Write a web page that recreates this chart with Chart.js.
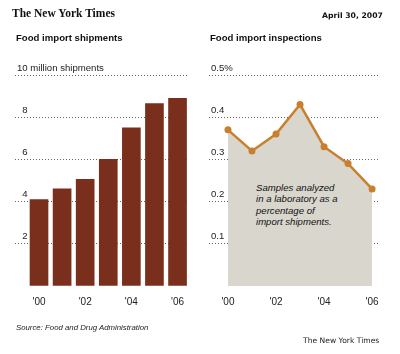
<!DOCTYPE html>
<html>
<head>
<meta charset="utf-8">
<script src="https://cdn.jsdelivr.net/npm/chart.js@4.4.1/dist/chart.umd.min.js"></script>
<style>
  body { margin: 0; background: #fff; }
  #page { position: relative; width: 400px; height: 354px; overflow: hidden; font-family: "Liberation Sans", Arial, sans-serif; color: #111; }
  .abs { position: absolute; white-space: nowrap; }
  canvas { position: absolute; top: 0; }
  #logo { left: 12px; top: 7px; font-family: "Liberation Serif", serif; font-weight: bold; font-size: 11.5px; }
  #date { left: 322px; top: 11px; font-family: "DejaVu Sans", sans-serif; font-weight: bold; font-size: 7.7px; }
  .title { top: 32px; font-weight: bold; font-size: 9.6px; }
  #source { left: 16px; top: 323px; font-style: italic; font-size: 7.8px; color: #222; }
  #credit { left: 303px; top: 336px; font-family: "DejaVu Sans", sans-serif; font-size: 7.6px; color: #222; }
  #note { left: 254px; top: 182px; font-style: italic; font-size: 9.6px; line-height: 11.3px; background: #d9d6ce; padding: 0 2px; color: #111; }
</style>
</head>
<body>
<div id="page">
  <canvas id="shipChart" width="200" height="354" style="left:0"></canvas>
  <canvas id="inspChart" width="200" height="354" style="left:200px"></canvas>
  <div class="abs" id="logo">The New York Times</div>
  <div class="abs" id="date">April 30, 2007</div>
  <div class="abs title" style="left:16px">Food import shipments</div>
  <div class="abs title" style="left:210px">Food import inspections</div>
  <div class="abs" id="note">Samples analyzed<br>in a laboratory as a<br>percentage of<br>import shipments.</div>
  <div class="abs" id="source">Source: Food and Drug Administration</div>
  <div class="abs" id="credit">The New York Times</div>
</div>
<script>
// Data
const years = [2000, 2001, 2002, 2003, 2004, 2005, 2006];
const tickYears = [2000, 2002, 2004, 2006];
const shipments = [4.1, 4.6, 5.05, 6.0, 7.5, 8.65, 8.9];          // millions
const inspections = [0.37, 0.32, 0.36, 0.43, 0.33, 0.29, 0.23];   // percent
const shipTickLabels = ['', '\u20072', '\u20074', '\u20076', '\u20078', '10 million shipments'];
const inspTickLabels = ['', '0.1', '0.2', '0.3', '0.4', '0.5%'];

const barColor = '#7a2e1c';
const lineColor = '#c8802f';
const fillColor = '#d9d6ce';
const gridColor = 'rgba(60,60,60,0.8)';

function yearLabel(v) {
    return "'" + String(v).slice(2);
}

function xAxis(min, max) {
    return {
        type: 'linear',
        min: min,
        max: max,
        offset: false,
        afterBuildTicks: scale => { scale.ticks = tickYears.map(v => ({ value: v })); },
        grid: { display: false },
        border: { display: false },
        ticks: {
            padding: 2,
            color: '#222',
            font: { family: 'Liberation Sans', size: 10 },
            callback: v => yearLabel(v)
        }
    };
}

function yAxis(max, step, labels) {
    return {
        min: 0,
        max: max,
        z: 1,
        afterBuildTicks: scale => {
            scale.ticks = labels.map((l, i) => ({ value: +(i * step).toFixed(2) }));
        },
        border: { display: false, dash: [1, 2] },
        grid: {
            drawTicks: false,
            color: ctx => ctx.tick && ctx.tick.value === 0 ? 'rgba(0,0,0,0)' : gridColor,
            lineWidth: 1
        },
        ticks: {
            mirror: true,
            padding: 2,
            labelOffset: -7,
            color: '#222',
            font: { family: 'Liberation Sans', size: 9.6 },
            callback: (v, i) => labels[i]
        }
    };
}

new Chart(document.getElementById('shipChart'), {
    type: 'bar',
    data: {
        datasets: [{
            data: years.map((y, i) => ({ x: y, y: shipments[i] })),
            backgroundColor: barColor,
            barThickness: 18
        }]
    },
    options: {
        responsive: false,
        animation: false,
        layout: { padding: { top: 75, left: 11, right: 13, bottom: 44 } },
        plugins: { legend: { display: false }, tooltip: { enabled: false } },
        scales: {
            x: xAxis(1998.96, 2006.41),
            y: yAxis(10, 2, shipTickLabels)
        }
    }
});

new Chart(document.getElementById('inspChart'), {
    type: 'line',
    data: {
        datasets: [{
            data: years.map((y, i) => ({ x: y, y: inspections[i] })),
            borderColor: lineColor,
            borderWidth: 2.5,
            backgroundColor: fillColor,
            fill: 'origin',
            pointRadius: 3.5,
            pointBackgroundColor: lineColor,
            pointBorderWidth: 0,
            tension: 0
        }]
    },
    options: {
        responsive: false,
        animation: false,
        layout: { padding: { top: 75, left: 5, right: 20, bottom: 44 } },
        plugins: { legend: { display: false }, tooltip: { enabled: false } },
        scales: {
            x: xAxis(1999.21, 2006.33),
            y: yAxis(0.5, 0.1, inspTickLabels)
        }
    }
});
</script>
</body>
</html>
